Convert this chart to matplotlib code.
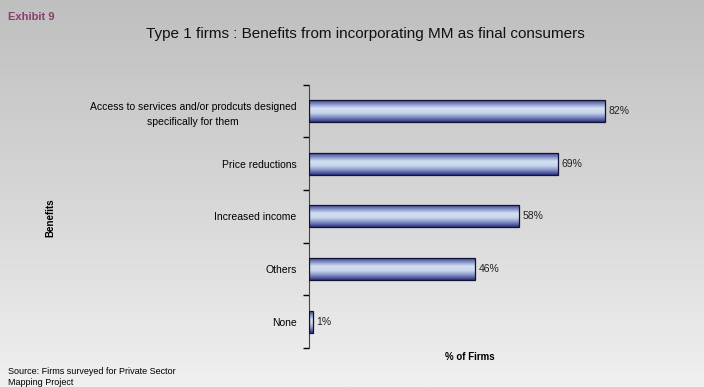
import matplotlib
matplotlib.use("Agg")
import matplotlib.pyplot as plt
import numpy as np
from matplotlib.colors import LinearSegmentedColormap

plt.rcParams['font.family'] = ['Liberation Sans', 'DejaVu Sans']

categories = [
    "Access to services and/or prodcuts designed\nspecifically for them",
    "Price reductions",
    "Increased income",
    "Others",
    "None",
]
values = [82, 69, 58, 46, 1]
value_labels = ["82%", "69%", "58%", "46%", "1%"]

fig = plt.figure(figsize=(7.04, 3.87), dpi=100)

# background gradient
bg = fig.add_axes([0, 0, 1, 1], zorder=-10)
bgcmap = LinearSegmentedColormap.from_list("bg", ["#bfbfbf", "#d6d6d6", "#f0f0f0"])
bg.imshow(np.linspace(0, 1, 256).reshape(-1, 1), aspect="auto", cmap=bgcmap,
          extent=[0, 1, 0, 1], origin="upper")
bg.axis("off")

ax = fig.add_axes([0.439, 0.101, 0.513, 0.680])
ax.patch.set_alpha(0)

y = np.arange(len(categories))
barcmap = LinearSegmentedColormap.from_list(
    "bar", ["#2e3380", "#7f8cc4", "#d4e0f0", "#c8d6ec", "#7f8cc4", "#2e3380"])
grad = np.linspace(0, 1, 64).reshape(-1, 1)
h = 0.42
bars = ax.barh(y, values, height=h, color="none", edgecolor="#111133", linewidth=0.9, zorder=3)
for b, v, lab in zip(bars, values, value_labels):
    x0, y0 = b.get_x(), b.get_y()
    im = ax.imshow(grad, aspect="auto", cmap=barcmap,
                   extent=[x0, x0 + b.get_width(), y0 + h, y0], zorder=2)
    im.set_clip_path(b)
    ax.text(v + 1, b.get_y() + h / 2, lab, va="center", ha="left", fontsize=7.5, color="#222222")

ax.set_xlim(0, 100)
ax.set_ylim(len(categories) - 0.5, -0.5)
ax.set_yticks(y)
ax.set_yticklabels(categories, fontsize=7.5, ha="right", multialignment="center", linespacing=1.6)
ax.tick_params(axis="y", length=0, pad=9)
ax.set_yticks(np.arange(-0.5, len(categories)), minor=True)
ax.tick_params(axis="y", which="minor", length=4, width=1)
ax.set_xticks([])
for s in ["top", "right", "bottom"]:
    ax.spines[s].set_visible(False)
ax.spines["left"].set_color("#444444")

fig.text(0.668, 0.077, "% of Firms", fontsize=7, fontweight="bold", ha="center", va="center")
fig.text(0.071, 0.437, "Benefits", rotation=90, fontsize=7, fontweight="bold", ha="center", va="center")
fig.text(0.012, 0.957, "Exhibit 9", fontsize=8, fontweight="bold", color="#8b3c6b", ha="left", va="center")
fig.text(0.519, 0.913, "Type 1 firms : Benefits from incorporating MM as final consumers",
         fontsize=11, ha="center", va="center", color="#111111")
fig.text(0.012, 0.039, "Source: Firms surveyed for Private Sector", fontsize=6.5, ha="left", va="center")
fig.text(0.012, 0.012, "Mapping Project", fontsize=6.5, ha="left", va="center")

fig.savefig("out.png", dpi=100)
